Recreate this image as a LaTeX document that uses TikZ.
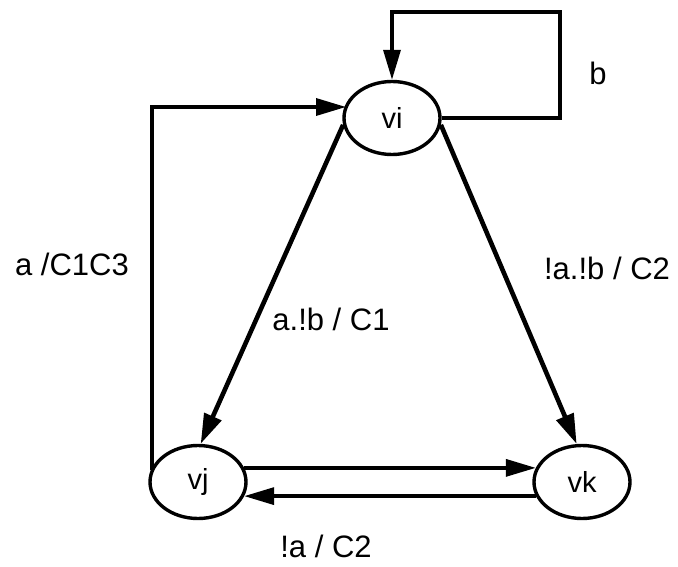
\documentclass[tikz,border=0pt]{standalone}
\usepackage{fontspec}
\setmainfont{Liberation Sans}
\usetikzlibrary{shapes.geometric,arrows.meta}
\tikzset{
  state/.style={ellipse,draw,line width=3.4pt,minimum width=96pt,minimum height=73pt,inner sep=0pt,font=\fontsize{29}{33}\selectfont},
  arr/.style={line width=3.4pt,-{Triangle[length=30pt,width=17pt]}},
  thick arr/.style={line width=4.6pt,-{Triangle[length=30pt,width=18pt]}},
  lab/.style={font=\fontsize{31}{35}\selectfont,inner sep=0pt}
}
\begin{document}
\begin{tikzpicture}[x=1pt,y=-1pt]
\useasboundingbox (0,0) rectangle (678,567);
\node[state] (vi) at (392,118) {vi};
\node[state] (vj) at (198,482) {vj};
\node[state] (vk) at (582,482) {vk};
% self loop
\coordinate (s1) at (560,118);
\coordinate (s2) at (560,12);
\coordinate (s3) at (392,12);
\draw[arr,line join=miter] (vi.east) -- (s1) -- (s2) -- (s3) -- (vi.north);
\node[lab] (lb) at (598,73) {b};
% left loop
\coordinate (l1) at (152,470);
\coordinate (l2) at (152,107);
\coordinate (l3) at (346,107);
\draw[arr,line join=miter] (l1) -- (l2) -- (l3);
\node[lab] (la) at (72,264) {a /C1C3};
% diagonals
\draw[thick arr] (vi.188) -- (vj.86);
\node[lab] (lc1) at (331,319) {a.!b / C1};
\draw[thick arr] (vi.352) -- (vk.98);
\node[lab] (lc2) at (607,268) {!a.!b / C2};
% bottom
\draw[arr] (vj.17) -- (vk.163);
\draw[arr] (vk.197) -- (vj.343);
\node[lab] (ld) at (326,546) {!a / C2};
\end{tikzpicture}
\end{document}
